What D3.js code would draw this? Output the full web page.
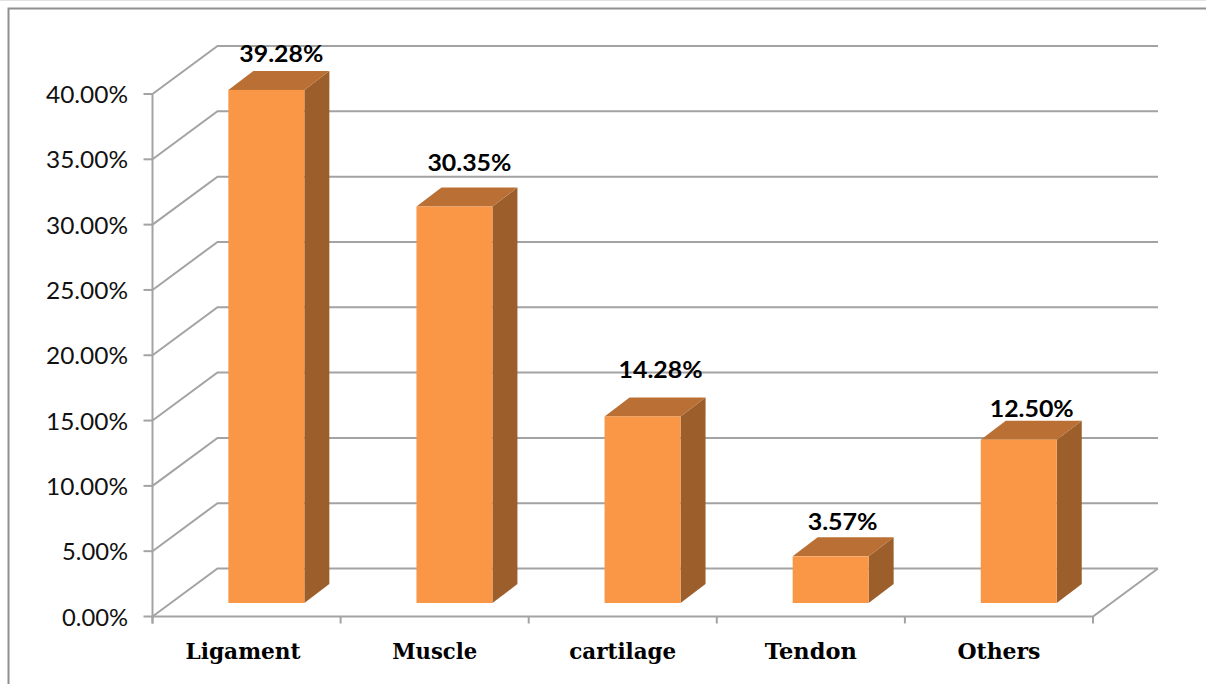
<!DOCTYPE html>
<html><head><meta charset="utf-8">
<style>html,body{margin:0;padding:0;background:#fff}svg{display:block}</style>
<script src="https://cdn.jsdelivr.net/npm/d3@7"></script></head>
<body><svg id="c" width="1206" height="684"></svg>
<script>
const categories = ["Ligament","Muscle","cartilage","Tendon","Others"];
const values = [39.28,30.35,14.28,3.57,12.50];
const valueLabels = ["39.28%","30.35%","14.28%","3.57%","12.50%"];
const yTicks = [0,5,10,15,20,25,30,35,40];

const svg = d3.select("#c");
const grey = "#a3a3a3";
const X0 = 152.5, X1 = 1093, Y0 = 616.5, Y40 = 94;
const wallDx = 65, wallDy = -48;
const barDx = 25, barDy = -19, barFloorLift = 13.5, barShift = 19.8;
const labelRise = [28,36,38,26,23], labelDx = [15,15,18,12,13];

const y = d3.scaleLinear().domain([0,40]).range([Y0,Y40]);
const x = d3.scaleBand().domain(categories).range([X0,X1]).paddingInner(0.596).paddingOuter(0.298);
const xBand = d3.scaleBand().domain(categories).range([X0,X1]);

// frame
svg.append("line").attr("x1",0).attr("x2",1206).attr("y1",0.5).attr("y2",0.5).attr("stroke","#e2e2e2");
svg.append("path").attr("d","M8.5,684V8.5H1206").attr("fill","none").attr("stroke","#8f8f8f").attr("stroke-width",2);

const g = svg.append("g").attr("fill","none").attr("stroke",grey).attr("stroke-width",2);
yTicks.forEach(t=>{
  g.append("path").attr("d",`M${X0},${y(t)}L${X0+wallDx},${y(t)+wallDy}H${X1+wallDx}`);
});
g.append("path").attr("d",`M${X0},${Y0}H${X1}L${X1+wallDx},${Y0+wallDy}`);
g.append("path").attr("d",`M${X0},${Y40}V${Y0+7}`);
yTicks.forEach(t=>g.append("path").attr("d",`M${X0-9},${y(t)}H${X0}`));
[...categories.map(c=>xBand(c)),X1].forEach(v=>g.append("path").attr("d",`M${v},${Y0}V${Y0+7}`));

svg.append("g").selectAll("text").data(yTicks).join("text")
  .attr("x",128).attr("y",t=>y(t)+9).attr("text-anchor","end")
  .attr("font-family","Lato,sans-serif").attr("font-size",23).attr("fill","#111")
  .attr("textLength",t=>t===0||t===5?66:82).attr("lengthAdjust","spacingAndGlyphs")
  .text(t=>t.toFixed(2)+"%");

const baseY = Y0 - barFloorLift;
const bars = svg.append("g").selectAll("g").data(categories).join("g");
const h = v => Y0 - y(v);
bars.each(function(c,i){
  const sel = d3.select(this), l = x(c)+barShift, r = l + x.bandwidth(), top = baseY - h(values[i]);
  sel.append("path").attr("d",`M${r},${top}L${r+barDx},${top+barDy}V${baseY+barDy}L${r},${baseY}Z`).attr("fill","#9c5f2c");
  sel.append("path").attr("d",`M${l},${top}L${l+barDx},${top+barDy}H${r+barDx}L${r},${top}Z`).attr("fill","#ba7034");
  sel.append("rect").attr("x",l).attr("y",top).attr("width",x.bandwidth()).attr("height",h(values[i])).attr("fill","#f99747");
  sel.append("text").attr("x",(l+r)/2+labelDx[i]).attr("y",top-labelRise[i])
    .attr("text-anchor","middle").attr("font-family","Lato,sans-serif").attr("font-weight",700)
    .attr("font-size",23).attr("fill","#000").attr("textLength",i===3?70:84).attr("lengthAdjust","spacingAndGlyphs")
    .text(valueLabels[i]);
});

const xLabelDx = {Ligament:-3.5,Muscle:0,cartilage:0,Tendon:0,Others:0};
svg.append("g").selectAll("text").data(categories).join("text")
  .attr("x",c=>xBand(c)+xBand.bandwidth()/2+xLabelDx[c]).attr("y",659).attr("text-anchor","middle")
  .attr("font-family","'DejaVu Serif',serif").attr("font-weight",700).attr("font-size",23).attr("fill","#000")
  .attr("textLength",c=>({Ligament:115,Muscle:85,cartilage:107,Tendon:92,Others:83})[c]).attr("lengthAdjust","spacingAndGlyphs")
  .text(c=>c);
</script></body></html>
